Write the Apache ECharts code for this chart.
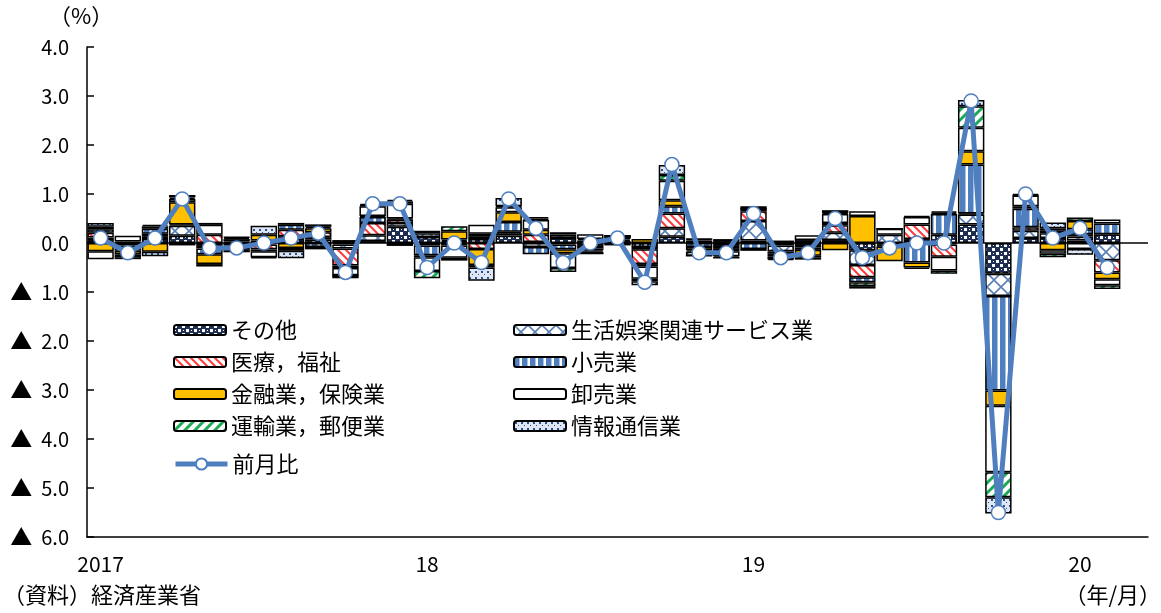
<!DOCTYPE html>
<html>
<head>
<meta charset="utf-8">
<script src="https://cdn.jsdelivr.net/npm/echarts@6/dist/echarts.min.js"></script>
<style>
html,body{margin:0;padding:0;background:#fff;}
#c{width:1161px;height:613px;}
</style>
</head>
<body>
<div id="c"></div>
<script>
// ---- data ----
const months = [];
for (let y = 2017; y <= 2020; y++) for (let m = 1; m <= 12; m++) { if (y === 2020 && m > 3) break; months.push(y + '/' + m); }
const xTickLabels = {'2017/1': '2017', '2018/1': '18', '2019/1': '19', '2020/1': '20'};
const yTickLabels = {4: '4.0', 3: '3.0', 2: '2.0', 1: '1.0', 0: '0.0', '-1': '▲ 1.0', '-2': '▲ 2.0', '-3': '▲ 3.0', '-4': '▲ 4.0', '-5': '▲ 5.0', '-6': '▲ 6.0'};

const other     = [0.06,0.03,0.08,0.15,-0.06,0.03,-0.03,0.08,0.07,-0.03,0.04,0.33,0.12,0.02,0.08,0.15,0.02,0.10,-0.06,0.04,-0.08,0.13,0.05,0.04,0.05,-0.05,-0.04,0.06,-0.15,-0.03,0.02,0.17,0.38,-0.63,0.10,0.10,0.05,0.18];
const lifeSvc   = [0.05,-0.05,0.06,0.20,-0.05,-0.05,0.05,0.06,0.05,-0.08,0.12,0.08,0.08,0.02,0.06,0.05,-0.08,0.07,-0.05,-0.05,-0.05,0.17,0.03,0.04,0.40,-0.12,-0.05,0.15,-0.30,0.17,0.06,-0.03,0.20,-0.45,0.15,0.10,0.08,-0.35];
const medical   = [0.10,-0.03,0.05,-0.05,0.17,-0.03,-0.10,0.13,0.10,-0.35,0.25,0.07,-0.05,-0.05,-0.12,0.03,0.15,-0.03,0.05,0.03,-0.30,0.30,0.00,-0.06,0.20,-0.05,0.06,0.15,-0.25,-0.02,0.30,-0.25,0.02,0.00,0.07,0.05,0.05,-0.25];
const retail    = [0.07,-0.08,0.10,0.03,-0.12,-0.06,-0.04,0.10,-0.08,-0.05,0.12,0.02,-0.20,0.03,0.05,0.20,-0.15,-0.10,0.03,0.03,-0.05,0.15,-0.08,-0.06,-0.12,-0.05,-0.05,0.05,-0.10,-0.02,-0.40,0.42,1.00,-1.93,0.38,0.05,0.10,0.22];
const finance   = [-0.17,-0.07,-0.18,0.45,-0.20,-0.05,0.12,-0.10,0.08,0.06,0.02,-0.06,-0.04,0.17,-0.33,0.20,0.10,-0.08,-0.04,0.00,0.08,0.12,-0.07,-0.05,-0.04,0.05,-0.12,-0.15,0.55,-0.30,-0.10,0.03,0.27,-0.31,0.05,-0.15,0.17,-0.14];
const wholesale = [-0.16,0.12,0.05,0.07,0.20,0.05,-0.12,-0.06,-0.05,-0.15,0.20,0.30,-0.28,-0.25,0.18,0.10,0.20,-0.30,0.10,0.05,-0.25,0.40,-0.03,-0.10,0.05,-0.05,0.10,0.18,0.10,0.12,0.15,-0.28,0.48,-1.36,0.22,-0.07,-0.12,-0.12];
const transport = [0.05,-0.06,0.03,0.03,-0.05,0.03,-0.02,0.04,0.03,0.00,0.02,0.05,-0.15,0.10,-0.05,0.02,0.03,-0.08,-0.03,0.00,-0.05,0.12,-0.08,-0.03,0.00,0.00,-0.04,0.02,-0.08,0.00,0.02,-0.07,0.44,-0.51,0.01,-0.07,0.07,-0.08];
const infoComm  = [0.08,-0.04,-0.09,0.05,0.04,0.01,0.18,-0.15,0.05,-0.06,0.03,0.03,0.05,-0.06,-0.27,0.17,0.03,0.05,-0.05,0.00,-0.08,0.20,0.00,0.00,0.05,-0.03,-0.04,0.06,-0.05,0.00,-0.03,0.03,0.13,-0.33,0.02,0.12,-0.12,0.08];
const momTotal  = [0.1,-0.2,0.1,0.9,-0.1,-0.1,0.0,0.1,0.2,-0.6,0.8,0.8,-0.5,0.0,-0.4,0.9,0.3,-0.4,0.0,0.1,-0.8,1.6,-0.2,-0.2,0.6,-0.3,-0.2,0.5,-0.3,-0.1,0.0,0.0,2.9,-5.5,1.0,0.1,0.3,-0.5];

const seriesNames = ['その他','生活娯楽関連サービス業','医療，福祉','小売業','金融業，保険業','卸売業','運輸業，郵便業','情報通信業'];
const seriesData  = [other, lifeSvc, medical, retail, finance, wholesale, transport, infoComm];
const lineName = '前月比';

// ---- patterns ----
function tile(w, h, draw) {
  const c = document.createElement('canvas'); c.width = w; c.height = h;
  const g = c.getContext('2d'); g.fillStyle = '#fff'; g.fillRect(0, 0, w, h); draw(g, w, h);
  return {image: c, repeat: 'repeat'};
}
const NAVY = '#1f2f52', BLUE = '#4f7fbf';
const fills = [
  tile(8, 8, g => { g.fillStyle = NAVY; g.fillRect(0,0,8,8); g.fillStyle = '#fff'; g.fillRect(0,0,3,3); g.fillRect(4,4,3,3); g.fillRect(1,5,1,1); }),
  tile(14, 14, g => { g.strokeStyle = '#5a7fb5'; g.lineWidth = 1.6; g.beginPath(); g.moveTo(0,0); g.lineTo(14,14); g.moveTo(14,0); g.lineTo(0,14); g.stroke(); }),
  tile(8, 8, g => { g.strokeStyle = '#ff3b3b'; g.lineWidth = 2; g.beginPath(); g.moveTo(-2,-2); g.lineTo(10,10); g.moveTo(-6,2); g.lineTo(2,10); g.moveTo(6,-2); g.lineTo(10,2); g.stroke(); }),
  tile(8, 8, g => { g.fillStyle = BLUE; g.fillRect(0,0,5,8); g.fillStyle = '#a9c1e0'; g.fillRect(5,0,1,8); }),
  '#ffc000',
  '#ffffff',
  tile(10, 10, g => { g.strokeStyle = '#1aaa55'; g.lineWidth = 3; g.beginPath(); g.moveTo(-2,12); g.lineTo(12,-2); g.moveTo(-7,7); g.lineTo(7,-7); g.moveTo(3,17); g.lineTo(17,3); g.stroke(); }),
  tile(6, 6, g => { g.fillStyle = '#dde6f2'; g.fillRect(0,0,6,6); g.fillStyle = '#2f4f8f'; g.fillRect(1,1,2,2); g.fillRect(4,4,1,1); })
];

const FONT = '"Noto Sans CJK JP", "Noto Sans", sans-serif';
const series = seriesNames.map((name, i) => ({
  name, type: 'bar', stack: 'total', data: seriesData[i],
  barCategoryGap: '3%',
  itemStyle: {color: fills[i], borderColor: '#000', borderWidth: 1.5},
  emphasis: {disabled: true}
}));
series[series.length - 1].markLine = {
  silent: true, symbol: 'none', label: {show: false},
  lineStyle: {color: '#000', width: 1.5, type: 'solid'},
  emphasis: {disabled: true},
  data: [{yAxis: 0}]
};
series.push({
  name: lineName, type: 'line', data: momTotal, z: 10,
  symbol: 'circle', symbolSize: 14,
  lineStyle: {color: BLUE, width: 5},
  itemStyle: {color: '#fff', borderColor: BLUE, borderWidth: 1.5},
  emphasis: {disabled: true}
});

const legendCommon = {
  orient: 'vertical', itemWidth: 52, itemHeight: 10, itemGap: 10,
  textStyle: {fontFamily: FONT, fontSize: 22, color: '#000', padding: [0, 0, 0, 0]},
  selectedMode: false
};

const chart = echarts.init(document.getElementById('c'));
chart.setOption({
  animation: false,
  backgroundColor: '#fff',
  grid: {left: 87, right: 13, top: 47, bottom: 76},
  legend: [
    Object.assign({left: 168, top: 314, data: [seriesNames[0], seriesNames[2], seriesNames[4], seriesNames[6]]}, legendCommon),
    Object.assign({left: 508, top: 314, data: [seriesNames[1], seriesNames[3], seriesNames[5], seriesNames[7]]}, legendCommon),
    Object.assign({}, legendCommon, {left: 168, top: 448, itemHeight: 14, data: [lineName],
      lineStyle: {width: 5, color: BLUE}})
  ],
  xAxis: {
    type: 'category', data: months,
    axisLine: {onZero: false, lineStyle: {color: '#000', width: 1.5}},
    axisTick: {interval: 11, length: 8, lineStyle: {color: '#000', width: 1.5}},
    axisLabel: {interval: 11, margin: 17, color: '#000', fontFamily: FONT, fontSize: 21,
      formatter: v => xTickLabels[v] || ''}
  },
  yAxis: {
    type: 'value', min: -6, max: 4, interval: 1,
    splitLine: {show: false},
    axisLine: {show: true, lineStyle: {color: '#000', width: 1.5}},
    axisTick: {show: true, inside: true, length: 7, lineStyle: {color: '#000', width: 1.5}},
    axisLabel: {margin: 18, color: '#000', fontFamily: FONT, fontSize: 20,
      formatter: v => { const s = yTickLabels[String(v)] || ''; return s.charAt(0) === '▲' ? '{tri|▲}  ' + s.slice(2) : s; },
      rich: {tri: {fontSize: 22, fontFamily: FONT, color: '#000'}}}
  },
  graphic: [
    {type: 'text', left: 49, top: 5, style: {text: '（%）', font: '22px ' + FONT, fill: '#000'}},
    {type: 'text', left: 3, top: 584, style: {text: '（資料）経済産業省', font: '22px ' + FONT, fill: '#000'}},
    {type: 'text', right: 0, top: 584, style: {text: '（年/月）', font: '22px ' + FONT, fill: '#000'}}
  ],
  series
});
</script>
</body>
</html>
